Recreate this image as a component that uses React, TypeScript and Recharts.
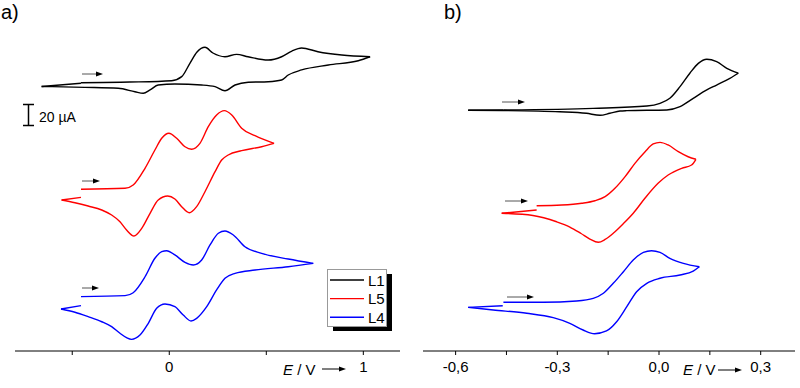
import { LineChart, Line, XAxis, YAxis } from "recharts";

type Pt = [number, number];

// [E / V, I / µA]; curves are stacked with a vertical offset, full scan path in order
const A_L1: Pt[] = [
  [-0.455, 243.9], [-0.203, 244.5], [0.012, 245.7], [0.064, 249.4], [0.107, 261.8], [0.143, 271.8],
  [0.184, 276.1], [0.225, 270.9], [0.287, 267.5], [0.347, 269.7], [0.406, 267.5], [0.509, 264.5],
  [0.579, 267.5], [0.632, 272.7], [0.682, 275.5], [0.766, 272.1], [0.889, 269.1], [1.035, 267.5],
  [0.974, 263.9], [0.82, 260], [0.682, 255.5], [0.613, 250.9], [0.579, 246.4], [0.51, 244.8],
  [0.407, 244.3], [0.339, 241.8], [0.287, 236.6], [0.236, 240.3], [0.167, 241.8], [0.029, 242.7],
  [-0.057, 241.8], [-0.099, 237.3], [-0.134, 234.3], [-0.177, 235.7], [-0.263, 238.8], [-0.435, 239.7],
  [-0.658, 240.5], [-0.455, 243.4],
];

const A_L5: Pt[] = [
  [-0.455, 147.0], [-0.228, 147.9], [-0.186, 150.9], [-0.125, 166.1], [-0.074, 182.7], [-0.039, 193.4],
  [-0.002, 197.9], [0.038, 193.4], [0.081, 185.7], [0.115, 183.4], [0.158, 188.8], [0.201, 203.9],
  [0.244, 214.5], [0.284, 218.5], [0.322, 214.5], [0.373, 202.5], [0.442, 195.7], [0.54, 188.8],
  [0.476, 185.7], [0.373, 182.1], [0.304, 178.2], [0.27, 173.6], [0.236, 163], [0.184, 144.8],
  [0.141, 131.2], [0.103, 125.7], [0.064, 131.2], [0.029, 138.2], [-0.008, 140.9], [-0.057, 137.3],
  [-0.099, 125.2], [-0.142, 111.5], [-0.182, 104.5], [-0.22, 110], [-0.254, 117.5], [-0.297, 123.6],
  [-0.348, 128.2], [-0.418, 131.8], [-0.486, 134.8], [-0.555, 137.3], [-0.455, 139.7],
];

const A_L4: Pt[] = [
  [-0.455, 49.4], [-0.228, 50.3], [-0.186, 53], [-0.125, 67.5], [-0.074, 84.3], [-0.039, 90.3],
  [-0.013, 91.2], [0.029, 87.3], [0.081, 80.6], [0.124, 78.2], [0.167, 82.7], [0.21, 96.4],
  [0.253, 107], [0.287, 109.1], [0.33, 105.5], [0.39, 94.8], [0.476, 88.8], [0.613, 83.6],
  [0.742, 79.7], [0.613, 76.6], [0.442, 73.6], [0.339, 70.6], [0.287, 66.1], [0.244, 55.5],
  [0.193, 40.3], [0.141, 29.7], [0.112, 27.3], [0.072, 32.7], [0.029, 40.3], [-0.022, 42.7],
  [-0.065, 38.8], [-0.108, 25.2], [-0.151, 14.5], [-0.194, 10.6], [-0.22, 12.1], [-0.254, 16.1],
  [-0.297, 22.1], [-0.348, 26.6], [-0.418, 31.2], [-0.486, 35.2], [-0.558, 38.2], [-0.455, 41.2],
];

const B_L1: Pt[] = [
  [-0.459, 219.1], [-0.194, 220.6], [-0.036, 222.7], [0.003, 225.2], [0.032, 229.7], [0.062, 240.3],
  [0.091, 252.5], [0.116, 261.5], [0.141, 265.2], [0.17, 263], [0.2, 257], [0.234, 252.5],
  [0.209, 247.9], [0.17, 241.8], [0.141, 237.3], [0.101, 229.7], [0.062, 222.1], [0.023, 219.1],
  [-0.095, 218.5], [-0.115, 218.2], [-0.145, 216.1], [-0.174, 214.3], [-0.214, 216.1], [-0.293, 217.5],
  [-0.459, 218.6], [-0.563, 218.8], [-0.459, 219.1],
];

const B_L5: Pt[] = [
  [-0.361, 132.1], [-0.287, 132.7], [-0.228, 134.3], [-0.189, 136.6], [-0.159, 140.3], [-0.13, 147.9],
  [-0.1, 158.5], [-0.071, 170.6], [-0.041, 181.2], [-0.017, 188.2], [0.003, 189.7], [0.027, 187.3],
  [0.057, 181.2], [0.086, 176.6], [0.109, 174.3], [0.096, 169.1], [0.067, 166.1], [0.027, 160],
  [-0.002, 152.7], [-0.041, 139.1], [-0.076, 125.2], [-0.106, 115.5], [-0.135, 107], [-0.159, 101.4],
  [-0.179, 98.8], [-0.204, 101.8], [-0.23, 106.8], [-0.263, 112.7], [-0.302, 117.5], [-0.372, 123.2],
  [-0.464, 125.2], [-0.361, 128.2],
];

const B_L4: Pt[] = [
  [-0.459, 44.3], [-0.341, 44.3], [-0.243, 45.5], [-0.194, 47.9], [-0.164, 52.5], [-0.135, 61.5],
  [-0.105, 72.1], [-0.076, 82.7], [-0.046, 89.7], [-0.022, 91.2], [0.003, 89.7], [0.032, 84.3],
  [0.072, 79.7], [0.119, 76.6], [0.101, 72.7], [0.062, 69.1], [0.003, 66.1], [-0.036, 61.5],
  [-0.066, 53.9], [-0.095, 40.3], [-0.125, 26.6], [-0.155, 18.2], [-0.19, 15.7], [-0.224, 19.1],
  [-0.263, 25.2], [-0.312, 30.3], [-0.39, 34.3], [-0.489, 37.3], [-0.563, 39.7], [-0.461, 41.2],
];

const A_TICKS = [-0.5, 0, 0.5, 1];
const A_LABELS = ["", "0", "", "1"];
const B_TICKS = [-0.6, -0.45, -0.3, -0.15, 0, 0.15, 0.3];
const B_LABELS = ["-0,6", "", "-0,3", "", "0,0", "", "0,3"];

const LEGEND = [
  { name: "L1", color: "#000000" },
  { name: "L5", color: "#ff0000" },
  { name: "L4", color: "#0000ff" },
];

const FONT = "'Liberation Sans', Arial, sans-serif";

// split a scan path into runs where E keeps one direction, so monotone curves can be used
function runs(path: Pt[]) {
  const out: { E: number; I: number }[][] = [];
  let cur: Pt[] = [path[0]];
  let dir = 0;
  for (let i = 1; i < path.length; i++) {
    const d = Math.sign(path[i][0] - path[i - 1][0]);
    if (dir !== 0 && d !== dir) {
      out.push(cur.map(([E, I]) => ({ E, I })));
      cur = [path[i - 1]];
    }
    dir = d;
    cur.push(path[i]);
  }
  out.push(cur.map(([E, I]) => ({ E, I })));
  return out;
}

function Panel({
  left, margin, domain, ticks, labels, curves,
}: {
  left: number;
  margin: { top: number; right: number; bottom: number; left: number };
  domain: [number, number];
  ticks: number[];
  labels: string[];
  curves: { path: Pt[]; color: string }[];
}) {
  const fmt = (v: number) => {
    const i = ticks.findIndex((t) => Math.abs(t - v) < 1e-6);
    return i < 0 ? "" : labels[i];
  };
  return (
    <div style={{ position: "absolute", left, top: 0 }}>
      <LineChart width={400} height={388} margin={margin}>
        <XAxis
          type="number"
          dataKey="E"
          domain={domain}
          allowDataOverflow
          ticks={ticks}
          interval={0}
          tickFormatter={fmt}
          height={37}
          tickSize={4}
          tickMargin={6}
          axisLine={{ stroke: "#000", strokeWidth: 1 }}
          tickLine={{ stroke: "#000" }}
          tick={{ fill: "#000", fontSize: 15, fontFamily: FONT }}
        />
        <YAxis type="number" hide domain={[0, 310]} allowDataOverflow />
        {curves.flatMap((c, ci) =>
          runs(c.path).map((seg, si) => (
            <Line
              key={`${ci}-${si}`}
              data={seg}
              dataKey="I"
              type="monotone"
              stroke={c.color}
              strokeWidth={1.4}
              dot={false}
              activeDot={false}
              isAnimationActive={false}
            />
          ))
        )}
      </LineChart>
    </div>
  );
}

function Arrow({ x1, x2, y, color = "#555" }: { x1: number; x2: number; y: number; color?: string }) {
  return (
    <g>
      <line x1={x1} y1={y} x2={x2 - 5} y2={y} stroke={color} strokeWidth={1} />
      <polygon points={`${x2},${y} ${x2 - 7},${y - 2.5} ${x2 - 7},${y + 2.5}`} fill="#000" />
    </g>
  );
}

export default function App() {
  return (
    <div style={{ position: "absolute", left: 0, top: 0, width: 800, height: 388, background: "#fff", fontFamily: FONT }}>
      <Panel
        left={0}
        margin={{ top: 10, right: 0, bottom: 0, left: 15 }}
        domain={[-0.795, 1.189]}
        ticks={A_TICKS}
        labels={A_LABELS}
        curves={[
          { path: A_L1, color: LEGEND[0].color },
          { path: A_L5, color: LEGEND[1].color },
          { path: A_L4, color: LEGEND[2].color },
        ]}
      />
      <Panel
        left={400}
        margin={{ top: 10, right: 5, bottom: 0, left: 23 }}
        domain={[-0.6962, 0.4012]}
        ticks={B_TICKS}
        labels={B_LABELS}
        curves={[
          { path: B_L1, color: LEGEND[0].color },
          { path: B_L5, color: LEGEND[1].color },
          { path: B_L4, color: LEGEND[2].color },
        ]}
      />
      <svg width={800} height={388} style={{ position: "absolute", left: 0, top: 0, pointerEvents: "none" }} fontFamily={FONT}>
        <text x={1} y={19} fontSize={20} fill="#000">a)</text>
        <text x={444} y={19} fontSize={20} fill="#000">b)</text>

        {/* scale bar */}
        <line x1={28.5} y1={104} x2={28.5} y2={126} stroke="#000" strokeWidth={1.5} />
        <line x1={23} y1={104.5} x2={34} y2={104.5} stroke="#000" strokeWidth={1.5} />
        <line x1={23} y1={125.5} x2={34} y2={125.5} stroke="#000" strokeWidth={1.5} />
        <text x={39} y={122} fontSize={14} fill="#000">20 µA</text>

        {/* scan direction arrows */}
        <Arrow x1={82} x2={103} y={74} />
        <Arrow x1={82} x2={100} y={181} />
        <Arrow x1={82} x2={99} y={288} />
        <Arrow x1={502} x2={525} y={102} />
        <Arrow x1={505} x2={528} y={201} />
        <Arrow x1={507} x2={534} y={297} />

        {/* axis titles */}
        <text x={283} y={375} fontSize={15} fill="#000">
          <tspan fontStyle="italic">E</tspan> / V
        </text>
        <Arrow x1={322} x2={346} y={369} color="#000" />
        <text x={683} y={375} fontSize={15} fill="#000">
          <tspan fontStyle="italic">E</tspan> / V
        </text>
        <Arrow x1={718} x2={742} y={370} color="#000" />

        {/* legend */}
        <rect x={333} y={274} width={59} height={57} fill="#000" />
        <rect x={327.5} y={269.5} width={59} height={57} fill="#fff" stroke="#999" strokeWidth={1} />
        {LEGEND.map((l, i) => (
          <g key={l.name}>
            <line x1={330} y1={280 + i * 18.6} x2={364} y2={280 + i * 18.6} stroke={l.color} strokeWidth={1.4} />
            <text x={368} y={286 + i * 18.4} fontSize={15} fill="#000">{l.name}</text>
          </g>
        ))}
      </svg>
    </div>
  );
}
